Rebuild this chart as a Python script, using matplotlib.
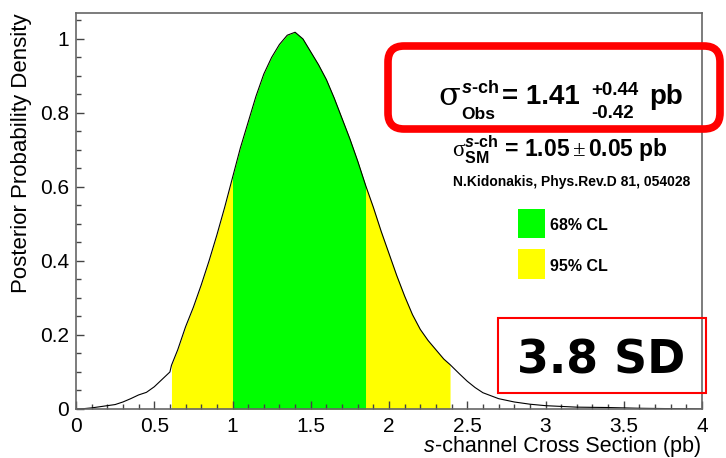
import matplotlib
matplotlib.use("Agg")
import matplotlib.pyplot as plt
import numpy as np
from matplotlib.patches import FancyBboxPatch, Rectangle
from matplotlib.transforms import IdentityTransform
from matplotlib.ticker import MultipleLocator

# Posterior density for the s-channel cross section (pb)
xsec = [0.00, 0.05, 0.10, 0.15, 0.20, 0.25, 0.30, 0.35, 0.40, 0.45, 0.50,
        0.55, 0.60, 0.61, 0.65, 0.70, 0.75, 0.80, 0.85, 0.90, 0.95, 1.00,
        1.05, 1.10, 1.15, 1.20, 1.25, 1.30, 1.35, 1.40, 1.45, 1.50, 1.55,
        1.60, 1.65, 1.70, 1.75, 1.80, 1.85, 1.90, 1.95, 2.00, 2.05, 2.10,
        2.15, 2.20, 2.25, 2.30, 2.35, 2.39, 2.45, 2.50, 2.55, 2.60, 2.70,
        2.80, 2.90, 3.00, 3.10, 3.20, 3.40, 3.60, 3.80, 4.00]
density = [0.000, 0.001, 0.003, 0.006, 0.009, 0.012, 0.019, 0.028, 0.038, 0.045, 0.060,
           0.080, 0.100, 0.118, 0.160, 0.222, 0.275, 0.335, 0.400, 0.470, 0.545, 0.625,
           0.705, 0.775, 0.845, 0.905, 0.950, 0.985, 1.010, 1.018, 1.000, 0.965, 0.930,
           0.890, 0.840, 0.785, 0.730, 0.670, 0.605, 0.545, 0.480, 0.420, 0.360, 0.305,
           0.255, 0.215, 0.185, 0.160, 0.135, 0.120, 0.095, 0.075, 0.058, 0.044, 0.028,
           0.019, 0.013, 0.009, 0.007, 0.005, 0.004, 0.002, 0.001, 0.000]

cl68 = (1.00, 1.85)
cl95 = (0.61, 2.39)

xticks = [0, 0.5, 1, 1.5, 2, 2.5, 3, 3.5, 4]
xticklabels = ['0', '0.5', '1', '1.5', '2', '2.5', '3', '3.5', '4']
yticks = [0, 0.2, 0.4, 0.6, 0.8, 1]
yticklabels = ['0', '0.2', '0.4', '0.6', '0.8', '1']

W, H = 726, 458
plt.rcParams['font.family'] = ['Liberation Sans', 'DejaVu Sans']
plt.rcParams['mathtext.fontset'] = 'custom'
plt.rcParams['mathtext.rm'] = 'Liberation Sans:bold'
plt.rcParams['mathtext.bf'] = 'Liberation Sans:bold'
plt.rcParams['mathtext.it'] = 'Liberation Sans:bold:italic'
plt.rcParams['mathtext.cal'] = 'Liberation Serif'
plt.rcParams['mathtext.default'] = 'rm'

fig = plt.figure(figsize=(W / 100, H / 100), dpi=100)
ax = fig.add_axes([76 / W, 1 - 409 / H, (702 - 76) / W, (409 - 13) / H])

x = np.array(xsec)
y = np.array(density)
ax.fill_between(x, 0, y, where=(x >= cl95[0]) & (x <= cl95[1]),
                color='#ffff00', lw=0, interpolate=False)
ax.fill_between(x, 0, y, where=(x >= cl68[0]) & (x <= cl68[1]),
                color='#00ff00', lw=0, interpolate=False)
ax.plot(x, y, color='black', lw=0.8)

ax.set_xlim(0, 4)
ax.set_ylim(0, 1.07)
ax.xaxis.set_minor_locator(MultipleLocator(0.1))
ax.yaxis.set_minor_locator(MultipleLocator(0.05))
ax.set_xticks(xticks)
ax.set_xticklabels(xticklabels)
ax.set_yticks(yticks)
ax.set_yticklabels(yticklabels)
ax.tick_params(which='both', direction='in', top=False, right=False,
               labelsize=15, colors='#444444', labelcolor='black', width=1)
ax.tick_params(which='major', length=6)
ax.tick_params(which='minor', length=3.5)
ax.tick_params(axis='x', pad=6)
ax.tick_params(axis='y', pad=5)
for s in ax.spines.values():
    s.set_color('#666666')
    s.set_linewidth(1.2)


def fx(px_x):
    return px_x / W


def fy(px_y):
    return 1 - px_y / H


# Axis titles (ROOT style: x title right-aligned, y title top-aligned)
xl = fig.text(fx(701), fy(452), '-channel Cross Section (pb)', fontsize=15.5,
              ha='right', va='baseline')
fig.canvas.draw()
rend = fig.canvas.get_renderer()
x0 = xl.get_window_extent(rend).x0
fig.text(x0 / W, fy(452), 's', fontsize=15.5, style='italic',
         ha='right', va='baseline')
fig.text(fx(22), fy(13), 'Posterior Probability Density', fontsize=16,
         rotation=90, ha='center', va='top')

px = IdentityTransform()

# Observed result box
fig.add_artist(FancyBboxPatch((388, H - 129), 332, 83,
                              boxstyle='round,pad=0,rounding_size=16',
                              transform=px, fill=False, ec='#ff0000', lw=5.5))
fig.text(fx(438), fy(105), '\u03c3', fontsize=23, family='DejaVu Serif',
         ha='left', va='baseline')
fig.text(fx(461), fy(93), r'$\mathit{s}\text{-ch}$', fontsize=13, ha='left', va='baseline')
fig.text(fx(461), fy(119), 'Obs', fontsize=12.5, fontweight='bold', ha='left', va='baseline')
fig.text(fx(502), fy(104), '= 1.41', fontsize=20, fontweight='bold', ha='left', va='baseline')
fig.text(fx(591), fy(95), '+0.44', fontsize=13.5, fontweight='bold', ha='left', va='baseline')
fig.text(fx(591), fy(118), '-0.42', fontsize=13.5, fontweight='bold', ha='left', va='baseline')
fig.text(fx(649), fy(104), 'pb', fontsize=20, fontweight='bold', ha='left', va='baseline')

# Standard-model prediction
fig.text(fx(560), fy(158),
         r'$\mathcal{\sigma}^{\mathit{s}\text{-}ch}_{SM}\text{ = 1.05}\,\mathcal{\pm}\,\text{0.05 pb}$',
         fontsize=16.5, ha='center', va='baseline')
fig.text(fx(572), fy(186), 'N.Kidonakis, Phys.Rev.D 81, 054028',
         fontsize=10, fontweight='bold', ha='center', va='baseline')

# Legend
fig.add_artist(Rectangle((518, H - 238), 27, 29, transform=px, color='#00ff00', lw=0))
fig.add_artist(Rectangle((518, H - 279), 27, 30, transform=px, color='#ffff00', lw=0))
fig.text(fx(550), fy(230), '68% CL', fontsize=11.5, fontweight='bold',
         ha='left', va='baseline')
fig.text(fx(550), fy(271), '95% CL', fontsize=11.5, fontweight='bold',
         ha='left', va='baseline')

# Significance box
fig.add_artist(Rectangle((498, H - 393), 208, 75, transform=px, fill=False,
                         ec='#ff0000', lw=1.5))
fig.text(fx(601), fy(373), '3.8 SD', fontsize=33, fontweight='bold',
         family='DejaVu Sans', ha='center', va='baseline')

fig.savefig('out.png', dpi=100)
